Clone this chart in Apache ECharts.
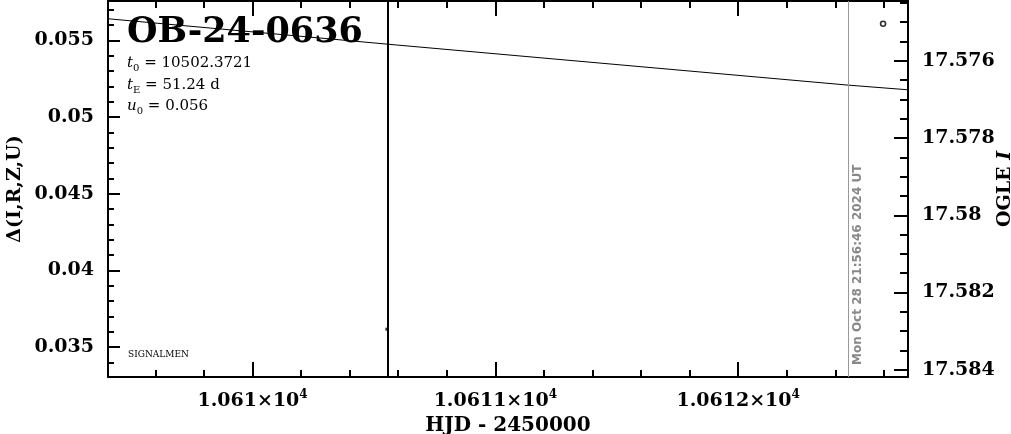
<!DOCTYPE html>
<html><head><meta charset="utf-8">
<script src="https://cdn.jsdelivr.net/npm/echarts@6/dist/echarts.min.js"></script>
<style>html,body{margin:0;padding:0;background:#fff}#c{width:1011px;height:434px}</style>
</head><body><div id="c"></div>
<script>
// ---- axis ranges and tick labels ----
const xMin = 10609.4045, xMax = 10612.6996;
const leftMin = 0.03305, leftMax = 0.05757;
const rightMin = 17.57445, rightMax = 17.58419;
const xMajorTicks = [10610, 10611, 10612];
const xTickLabels = ['1.061', '1.0611', '1.0612'];
const leftMajorTicks = [0.035, 0.04, 0.045, 0.05, 0.055];
const leftTickLabels = ['0.035', '0.04', '0.045', '0.05', '0.055'];
const rightMajorTicks = [17.576, 17.578, 17.58, 17.582, 17.584];
const rightTickLabels = ['17.576', '17.578', '17.58', '17.582', '17.584'];
// ---- data ----
const modelHjd = [10609.4045, 10610.5938, 10612.4539, 10612.6996];
const modelMag = [17.57491, 17.57559, 17.57663, 17.57675];
const ogleHjd = [10612.597];
const ogleMag = [17.57504];
const deltaHjd = [10610.551];
const deltaVal = [0.03617];
const lastObsHjd = 10610.5556;
const nowHjd = 10612.4555;
const nowLabel = 'Mon Oct 28 21:56:46 2024 UT';
const eventName = 'OB-24-0636';
const paramT0 = '10502.3721';
const paramTE = '51.24 d';
const paramU0 = '0.056';

function minorList(lo, hi, step, majorStep) {
  const out = [];
  const n0 = Math.ceil(lo / step - 1e-9), n1 = Math.floor(hi / step + 1e-9);
  const r = Math.round(majorStep / step);
  for (let n = n0; n <= n1; n++) { if (n % r !== 0) out.push(+(n * step).toFixed(6)); }
  return out;
}
const xMinor = minorList(xMin, xMax, 0.2, 1);
const leftMinor = minorList(leftMin, leftMax, 0.001, 0.005);
const rightMinor = minorList(rightMin, rightMax, 0.0005, 0.002);

const SERIF = '"DejaVu Serif", serif';

function xAx(pos, major, showLine, withLabels) {
  const a = {
    type: 'value', position: pos, min: xMin, max: xMax, splitLine: { show: false },
    axisLine: { show: showLine, onZero: false, lineStyle: { color: '#000', width: 2 } },
    axisTick: { show: true, inside: true, length: major ? 15 : 7, lineStyle: { color: '#000', width: 2 },
      customValues: major ? xMajorTicks : xMinor },
    axisLabel: { show: false }
  };
  if (withLabels) {
    a.axisLabel = {
      show: true, customValues: xMajorTicks, margin: 12,
      formatter: v => { const i = xMajorTicks.indexOf(v); return '{a|' + xTickLabels[i] + '×10}{s|4}'; },
      rich: { a: { fontFamily: SERIF, fontWeight: 'bold', fontSize: 19, color: '#000', lineHeight: 24 },
              s: { fontFamily: SERIF, fontWeight: 'bold', fontSize: 12, color: '#000', verticalAlign: 'top', lineHeight: 24 } }
    };
    a.name = 'HJD - 2450000'; a.nameLocation = 'middle'; a.nameGap = 39; a.nameMoveOverlap = false;
    a.nameTextStyle = { fontFamily: SERIF, fontWeight: 'bold', fontSize: 20, color: '#000' };
  }
  return a;
}
function yAx(pos, lo, hi, inverse, ticks, len, showLine, labels) {
  const a = {
    type: 'value', position: pos, min: lo, max: hi, inverse: inverse, splitLine: { show: false },
    axisLine: { show: showLine, onZero: false, lineStyle: { color: '#000', width: 2 } },
    axisTick: { show: true, inside: true, length: len, lineStyle: { color: '#000', width: 2 }, customValues: ticks },
    axisLabel: { show: false }
  };
  if (labels) {
    a.axisLabel = { show: true, customValues: ticks, margin: 14,
      formatter: v => labels[ticks.indexOf(v)],
      fontFamily: SERIF, fontWeight: 'bold', fontSize: 19, color: '#000' };
  }
  return a;
}

const yAxes = [
  yAx('left', leftMin, leftMax, false, leftMajorTicks, 12, true, leftTickLabels),
  yAx('left', leftMin, leftMax, false, leftMinor, 6, false, null),
  yAx('right', rightMin, rightMax, true, rightMajorTicks, 14, true, rightTickLabels),
  yAx('right', rightMin, rightMax, true, rightMinor, 8, false, null)
];
Object.assign(yAxes[0], { name: 'Δ(I,R,Z,U)', nameLocation: 'middle', nameGap: 83, nameRotate: 90, nameMoveOverlap: false,
  nameTextStyle: { fontFamily: SERIF, fontWeight: 'bold', fontSize: 19, color: '#000' } });
Object.assign(yAxes[2], { name: 'OGLE {i|I}', nameLocation: 'middle', nameGap: 88, nameRotate: 90, nameMoveOverlap: false,
  nameTextStyle: { fontFamily: SERIF, fontWeight: 'bold', fontSize: 19, color: '#000',
    rich: { i: { fontFamily: SERIF, fontWeight: 'bold', fontStyle: 'italic', fontSize: 19, color: '#000' } } } });

const sub = { fontFamily: SERIF, fontSize: 10, color: '#000', verticalAlign: 'bottom', lineHeight: 20 };
const it = { fontFamily: SERIF, fontSize: 15, fontStyle: 'italic', color: '#000', lineHeight: 20 };
const nrm = { fontFamily: SERIF, fontSize: 15, color: '#000', lineHeight: 20 };
function paramText(sym, s, val, top) {
  return { type: 'text', left: 127, top: top, silent: true,
    style: { text: '{i|' + sym + '}{s|' + s + '}{n| = ' + val + '}', rich: { i: it, s: sub, n: nrm } } };
}

const option = {
  animation: false,
  backgroundColor: '#fff',
  grid: { left: 108, right: 103, top: 1, bottom: 57, containLabel: false, outerBoundsMode: 'none' },
  xAxis: [xAx('bottom', true, true, true), xAx('bottom', false, false, false), xAx('top', true, true, false), xAx('top', false, false, false)],
  yAxis: yAxes,
  graphic: [
    { type: 'text', left: 127, top: 15, silent: true, style: { text: eventName, font: 'bold 35px "DejaVu Serif"', fill: '#000' } },
    paramText('t', '0', paramT0, 56),
    paramText('t', 'E', paramTE, 78),
    paramText('u', '0', paramU0, 99),
    { type: 'text', left: 128, top: 350, silent: true, style: { text: 'SIGNALMEN', font: '9px "DejaVu Serif"', fill: '#000' } }
  ],
  series: [
    { type: 'line', name: 'model', xAxisIndex: 0, yAxisIndex: 2, data: modelHjd.map((x, i) => [x, modelMag[i]]),
      showSymbol: false, symbol: 'none', lineStyle: { color: '#000', width: 1 }, clip: true, silent: true },
    { type: 'scatter', name: 'ogle', xAxisIndex: 0, yAxisIndex: 2, data: ogleHjd.map((x, i) => [x, ogleMag[i]]),
      symbol: 'circle', symbolSize: 5, itemStyle: { color: '#fff', borderColor: '#000', borderWidth: 1.6 }, silent: true },
    { type: 'scatter', name: 'delta', xAxisIndex: 0, yAxisIndex: 0, data: deltaHjd.map((x, i) => [x, deltaVal[i]]),
      symbol: 'rect', symbolSize: [2, 3], itemStyle: { color: '#000' }, silent: true,
      markLine: { silent: true, symbol: ['none', 'none'], animation: false,
        data: [
          [{ coord: [lastObsHjd, leftMin], lineStyle: { color: '#000', width: 2, type: 'solid' }, label: { show: false } },
           { coord: [lastObsHjd, leftMax], lineStyle: { color: '#000', width: 2, type: 'solid' }, label: { show: false } }],
          [{ coord: [nowHjd, leftMin], lineStyle: { color: '#999', width: 1, type: 'solid' },
             label: { show: true, position: 'insideStartBottom', formatter: nowLabel, color: '#888', fontWeight: 'bold', fontSize: 12, fontFamily: '"DejaVu Sans", sans-serif', distance: [12, 3] } },
           { coord: [nowHjd, leftMax], lineStyle: { color: '#999', width: 1, type: 'solid' } }]
        ] } }
  ]
};
const chart = echarts.init(document.getElementById('c'));
chart.setOption(option);
</script></body></html>
